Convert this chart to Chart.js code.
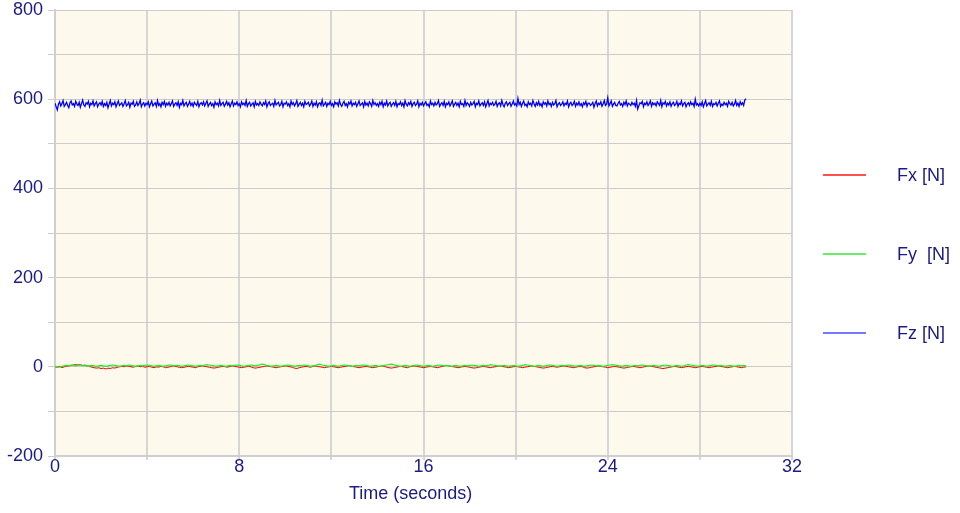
<!DOCTYPE html>
<html>
<head>
<meta charset="utf-8">
<script src="https://cdn.jsdelivr.net/npm/chart.js@4.4.0/dist/chart.umd.min.js"></script>
<style>
  html, body { margin: 0; padding: 0; background: #fff; }
  #wrap { position: relative; width: 960px; height: 513px; font-family: "Liberation Sans", Arial, sans-serif; color: #1b1b84; }
  #xtitle { position: absolute; left: 349px; top: 483px; font-size: 18px; line-height: 20px; white-space: nowrap; }
  .leg { position: absolute; left: 823px; width: 140px; height: 20px; }
  .leg i { position: absolute; left: 0; top: 9px; width: 43px; height: 2px; }
  .leg span { position: absolute; left: 74px; top: 0; font-size: 18px; line-height: 20px; white-space: nowrap; }
</style>
</head>
<body>
<div id="wrap">
  <canvas id="chart" width="960" height="513"></canvas>
  <div id="xtitle">Time (seconds)</div>
  <div class="leg" style="top:165px"><i style="background:#ff5050"></i><span>Fx [N]</span></div>
  <div class="leg" style="top:244px"><i style="background:#66ee66"></i><span>Fy &nbsp;[N]</span></div>
  <div class="leg" style="top:323px"><i style="background:#7777ff"></i><span>Fz [N]</span></div>
</div>
<script>
// Fz samples every 0.05 s, 0 to 30 s (one row = 1 s)
const fzValues = [
  591,583,576,589,594,585,590,597,584,588,593,586,581,592,596,587,590,584,595,589,
  586,593,582,590,598,587,584,592,589,595,583,591,588,596,585,590,594,583,589,592,
  587,595,584,590,586,593,581,589,597,585,591,588,594,583,590,596,586,589,592,584,
  590,597,585,588,593,582,591,589,595,584,587,594,586,590,598,583,589,592,585,591,
  588,594,583,590,596,585,589,592,584,597,586,590,583,593,588,595,584,591,587,593,
  585,590,596,584,589,592,586,594,582,591,588,597,585,590,593,584,589,595,586,591,
  584,593,589,586,595,583,590,592,587,594,585,591,596,584,589,593,586,590,582,594,
  588,591,585,597,586,590,593,584,589,595,587,592,583,590,596,585,591,588,594,586,
  590,583,594,588,591,586,597,584,590,593,585,589,592,583,595,587,590,586,594,589,
  585,592,588,596,583,590,594,586,589,591,584,597,587,590,593,585,588,595,583,591,
  589,594,586,590,583,596,588,592,585,590,597,584,589,593,586,591,583,595,588,590,
  593,585,589,596,584,591,587,594,583,590,592,586,598,585,589,593,584,591,588,595,
  586,590,583,594,589,592,585,597,588,584,591,595,586,590,583,593,589,596,585,591,
  588,593,584,590,596,586,589,592,583,595,587,591,585,594,590,584,597,588,592,586,
  590,584,593,588,595,583,591,587,596,585,590,593,584,589,592,586,595,583,590,588,
  594,586,591,583,597,589,585,592,588,595,584,590,593,586,589,596,583,591,587,593,
  585,590,594,586,589,583,596,588,591,585,593,587,590,597,584,589,592,586,595,583,
  591,588,594,585,590,596,584,589,593,586,591,583,595,588,590,584,597,586,592,589,
  584,593,587,590,595,583,591,588,596,585,589,592,586,594,583,590,597,585,591,588,
  593,586,589,595,584,590,592,585,597,588,583,591,594,586,590,593,584,589,596,587,
  590,585,602,588,593,584,591,596,586,589,583,594,588,591,585,597,590,584,592,587,
  595,586,590,583,594,589,592,585,596,588,591,584,593,587,590,597,583,589,592,586,
  589,594,585,591,588,596,583,590,593,586,589,595,584,591,587,594,586,590,583,592,
  588,595,584,591,591,586,589,593,582,590,596,585,591,588,594,584,590,597,586,589,
  603,585,590,596,584,589,593,586,585,591,595,587,590,584,593,588,596,585,591,589,
  586,593,588,591,584,597,578,585,592,590,595,583,591,588,594,586,590,596,584,592,
  588,591,585,594,590,586,597,583,592,589,595,585,591,587,594,584,590,593,586,589,
  595,584,591,588,596,585,590,593,583,589,592,586,594,588,591,584,600,587,590,585,
  591,586,594,583,590,597,585,589,592,586,595,584,590,588,593,585,591,596,584,589,
  586,593,588,591,584,595,590,587,593,585,589,597,586,591,584,594,588,592,586,598,
  601
];
// Fx samples every 0.1 s, 0 to 30 s (one row = 2 s)
const fxValues = [
  0,-1,1,-2,0,1,2,3,4,5,4,5,3,4,2,1,-1,-2,-3,-2,
  -4,-3,-5,-3,-4,-2,-3,-1,0,1,0,2,1,0,-1,1,2,0,1,-1,
  0,1,-1,-2,0,-1,1,0,-2,-1,0,2,1,0,-1,-2,-1,0,1,0,
  -1,-2,0,1,2,1,0,-1,-2,-3,-2,-1,0,1,0,-1,1,2,1,0,
  -1,-2,-1,0,1,0,-2,-3,-2,-1,0,1,2,1,0,-1,-2,-1,0,1,
  2,1,0,-1,-3,-4,-2,-1,0,1,0,-1,1,2,1,0,-1,-2,-1,0,
  1,0,-1,-2,-1,0,1,2,3,1,0,-1,-2,-1,0,1,0,-1,-2,-1,
  0,1,2,1,-1,-2,-3,-2,-1,0,1,0,-1,-2,0,1,2,1,0,-1,
  -2,-1,0,1,0,-1,-2,-1,1,2,3,2,1,0,-1,-2,-1,0,1,0,
  -1,-2,-3,-2,-1,0,1,0,-1,-2,-1,0,1,2,1,0,-1,-2,-1,0,
  1,0,-1,-2,-1,0,1,2,1,0,-1,-2,-3,-2,-1,0,1,0,-1,0,
  1,2,1,0,-1,-2,-1,0,1,0,-2,-3,-2,-1,0,1,2,1,0,-1,
  -2,-1,0,1,0,-1,-2,-3,-2,-1,0,1,0,-1,-2,-1,0,1,2,1,
  0,-1,-2,-3,-4,-3,-2,-1,0,1,0,-1,-2,-1,0,1,0,-1,-2,-1,
  0,1,0,-1,-2,-1,0,1,2,1,0,-1,-2,-1,0,1,0,-1,-2,-1,
  0
];
// Fy samples every 0.1 s, 0 to 30 s (one row = 2 s)
const fyValues = [
  1,0,-1,1,2,3,2,4,3,2,3,4,2,3,1,2,3,2,1,2,
  3,2,1,2,3,4,3,2,1,2,3,2,4,3,2,1,2,3,2,3,
  4,3,2,1,2,3,2,1,2,3,4,3,2,3,2,1,2,3,4,3,
  2,1,2,3,2,4,5,4,3,2,1,2,3,2,1,2,3,2,3,4,
  3,2,1,2,3,4,3,2,3,5,6,5,3,2,1,2,3,2,1,2,
  3,4,3,2,1,2,3,2,4,3,2,1,2,3,5,6,4,3,2,1,
  2,3,2,1,2,3,4,3,2,1,2,3,2,3,4,3,2,1,2,3,
  2,1,2,3,4,5,6,5,3,2,1,2,3,2,1,2,3,4,3,2,
  1,2,3,2,1,2,3,4,3,2,3,2,1,2,3,2,1,2,3,2,
  3,4,3,2,1,2,3,2,3,5,4,3,2,1,2,3,2,1,2,3,
  2,1,2,3,5,4,3,2,1,2,3,2,1,2,3,4,3,2,1,2,
  3,2,3,4,3,2,1,2,3,2,1,2,3,4,3,2,3,2,1,2,
  3,4,5,4,3,2,1,2,3,2,1,2,3,2,3,4,3,2,1,2,
  3,2,1,2,3,4,3,2,1,2,3,2,1,2,4,5,4,3,2,1,
  2,3,2,1,2,3,4,3,2,3,2,1,2,3,2,1,2,3,2,3,
  2
];
const xTickLabels = [0, 8, 16, 24, 32];
const yTickLabels = [-200, 0, 200, 400, 600, 800];

const toPoints = (values, step) => values.map((v, i) => ({ x: +(i * step).toFixed(2), y: v }));

const textColor = '#1b1b84';

const plotBackground = {
  id: 'plotBackground',
  beforeDraw(chart) {
    const { ctx, chartArea: a } = chart;
    ctx.save();
    ctx.fillStyle = '#fdf9ec';
    ctx.fillRect(a.left, a.top, a.right - a.left, a.bottom - a.top);
    ctx.restore();
  }
};

new Chart(document.getElementById('chart').getContext('2d'), {
  type: 'line',
  data: {
    datasets: [
      { label: 'Fx [N]', data: toPoints(fxValues, 0.1), borderColor: '#ff0000', borderWidth: 1, order: 3 },
      { label: 'Fy [N]', data: toPoints(fyValues, 0.1), borderColor: '#22ee22', borderWidth: 1.2, order: 2 },
      { label: 'Fz [N]', data: toPoints(fzValues, 0.05), borderColor: '#0000ff', borderWidth: 1.3, order: 1 }
    ].map(d => ({ ...d, pointRadius: 0, tension: 0, fill: false }))
  },
  options: {
    responsive: false,
    animation: false,
    devicePixelRatio: 1,
    layout: { padding: { top: 10, right: 168, left: 0, bottom: 0 } },
    plugins: { legend: { display: false }, tooltip: { enabled: false } },
    scales: {
      x: {
        type: 'linear',
        min: 0,
        max: 32,
        afterFit: (s) => { s.height = 57; s.paddingLeft = 0; s.paddingRight = 0; },
        grid: { color: '#d6d6d6', lineWidth: 2, tickLength: 4 },
        border: { color: '#cfcfcf', width: 2 },
        ticks: {
          stepSize: 4,
          padding: -4,
          maxRotation: 0,
          autoSkip: false,
          color: textColor,
          font: { family: 'Liberation Sans', size: 18 },
          callback: (v) => xTickLabels.includes(v) ? String(v) : ''
        }
      },
      y: {
        min: -200,
        max: 800,
        afterFit: (s) => { s.width = 55; s.paddingTop = 0; s.paddingBottom = 0; },
        grid: { color: '#cccccc', lineWidth: 1, tickLength: 7 },
        border: { color: '#cfcfcf', width: 2 },
        ticks: {
          stepSize: 100,
          padding: 5,
          autoSkip: false,
          color: textColor,
          font: { family: 'Liberation Sans', size: 18 },
          callback: (v) => yTickLabels.includes(v) ? String(v) : ''
        }
      }
    }
  },
  plugins: [plotBackground]
});
</script>
</body>
</html>
